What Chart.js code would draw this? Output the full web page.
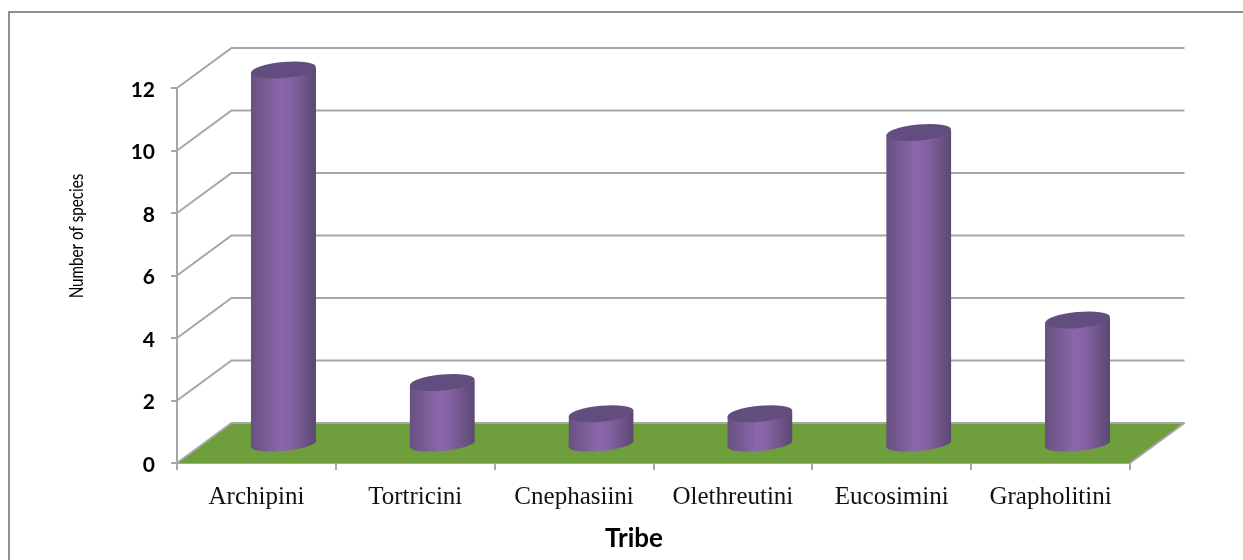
<!DOCTYPE html>
<html>
<head>
<meta charset="utf-8">
<style>
  html, body { margin: 0; padding: 0; background: #fff; }
  #wrap { width: 1243px; height: 560px; overflow: hidden; }
  /* the source picture is a soft, upscaled screenshot */
  #chart1 { filter: blur(0.45px); }
</style>
<script src="https://cdn.jsdelivr.net/npm/chart.js@4/dist/chart.umd.min.js"></script>
</head>
<body>
<div id="wrap"><canvas id="chart1" width="1243" height="560"></canvas></div>
<script>
const tribes = ['Archipini', 'Tortricini', 'Cnephasiini', 'Olethreutini', 'Eucosimini', 'Grapholitini'];
const species = [12, 2, 1, 1, 10, 4];
const xTitle = 'Tribe';
const yTitle = 'Number of species';

// 3d look: depth of the floor, the bars stand halfway in
const depthX = 54.5;
const depthY = -40;
const barShiftX = 27;
const barShiftY = -20;
const gridGrey = '#a6a6a6';
const barPct = 0.41;

function barGradient(ctx, x, w) {
  const g = ctx.createLinearGradient(x - w / 2, 0, x + w / 2, 0);
  g.addColorStop(0, '#67507f');
  g.addColorStop(0.45, '#8a67aa');
  g.addColorStop(0.6, '#8563a4');
  g.addColorStop(1, '#5b4872');
  return g;
}

// the scale may not be laid out yet the first time options get resolved
function barFill(c) {
  const xs = c.chart.scales.x;
  if (!xs || !Number.isFinite(xs.width) || c.dataIndex === undefined) return '#8a67aa';
  const x = xs.getPixelForValue(c.dataIndex);
  const w = xs.width / tribes.length * barPct;
  if (!Number.isFinite(x)) return '#8a67aa';
  return barGradient(c.chart.ctx, x, w);
}

const tilt = -0.095;

const wall3d = {
  id: 'wall3d',
  beforeDraw(chart) {
    // lato sits a bit high against the ticks
    const ys = chart.scales.y;
    const drawLabels = Object.getPrototypeOf(ys).drawLabels;
    ys.drawLabels = function (area) {
      chart.ctx.save();
      chart.ctx.translate(0, 2);
      drawLabels.call(this, area);
      chart.ctx.restore();
    };
  },
  beforeDatasetsDraw(chart) {
    const ctx = chart.ctx;
    const a = chart.chartArea;
    const y = chart.scales.y;

    // frame
    ctx.save();
    ctx.strokeStyle = '#8f8f8f';
    ctx.lineWidth = 2;
    ctx.beginPath();
    ctx.moveTo(9, 560);
    ctx.lineTo(9, 12);
    ctx.lineTo(1243, 12);
    ctx.stroke();

    // floor
    const y0 = y.getPixelForValue(0);
    ctx.fillStyle = '#6f9e3c';
    ctx.beginPath();
    ctx.moveTo(a.left, y0);
    ctx.lineTo(a.right, y0);
    ctx.lineTo(a.right + depthX, y0 + depthY);
    ctx.lineTo(a.left + depthX, y0 + depthY);
    ctx.closePath();
    ctx.fill();

    // walls
    ctx.strokeStyle = gridGrey;
    ctx.lineWidth = 2;
    y.ticks.forEach(t => {
      const py = y.getPixelForValue(t.value);
      ctx.beginPath();
      ctx.moveTo(a.left, py);
      ctx.lineTo(a.left + depthX, py + depthY);
      ctx.lineTo(a.right + depthX, py + depthY);
      ctx.stroke();
    });
    ctx.beginPath();
    ctx.moveTo(a.right, y0);
    ctx.lineTo(a.right + depthX, y0 + depthY);
    ctx.stroke();
    ctx.restore();

    // bars get cut to the slanted top of the cylinder
    ctx.save();
    ctx.beginPath();
    chart.getDatasetMeta(0).data.forEach(b => {
      const cx = b.x + barShiftX;
      const dy = Math.sin(tilt) * b.width / 2;
      const top = b.y + barShiftY + 2;
      const bot = b.base + barShiftY;
      ctx.moveTo(cx - b.width / 2, top - dy);
      ctx.lineTo(cx + b.width / 2, top + dy);
      ctx.lineTo(cx + b.width / 2, bot);
      ctx.lineTo(cx - b.width / 2, bot);
      ctx.closePath();
    });
    ctx.clip();
    ctx.translate(barShiftX, barShiftY);
  },
  afterDatasetsDraw(chart) {
    const ctx = chart.ctx;
    ctx.restore();
    ctx.save();
    chart.getDatasetMeta(0).data.forEach(b => {
      const cx = b.x + barShiftX;
      const r = b.width / 2;
      // bottom, joined up to the end of the bar
      ctx.fillStyle = barGradient(ctx, cx, b.width);
      ctx.beginPath();
      ctx.ellipse(cx, b.base + barShiftY + 2, r, 7, tilt, 0, Math.PI);
      ctx.lineTo(cx - r, b.base + barShiftY - 1);
      ctx.lineTo(cx + r, b.base + barShiftY - 1);
      ctx.closePath();
      ctx.fill();
      // top
      ctx.fillStyle = '#624e7e';
      ctx.beginPath();
      ctx.ellipse(cx, b.y + barShiftY + 2, r, 8, tilt, 0, Math.PI * 2);
      ctx.fill();
    });
    ctx.restore();
  },
  afterDraw(chart) {
    const ctx = chart.ctx;
    ctx.save();
    ctx.fillStyle = '#000';
    ctx.textAlign = 'center';
    ctx.textBaseline = 'middle';
    ctx.font = 'bold 26px Lato';
    ctx.fillText(xTitle, 634, 539);
    ctx.translate(77, 236);
    ctx.rotate(-Math.PI / 2);
    ctx.scale(0.8, 1);
    ctx.font = '19px Lato';
    ctx.fillText(yTitle, 0, 0);
    ctx.restore();
  }
};

const config1 = {
  type: 'bar',
  data: {
    labels: tribes,
    datasets: [{
      label: 'Number of species',
      data: species,
      clip: false,
      barPercentage: barPct,
      categoryPercentage: 1,
      borderWidth: 0,
      backgroundColor: barFill
    }]
  },
  options: {
    responsive: false,
    animation: false,
    layout: { padding: { left: 117, right: 113, top: 88, bottom: 37 } },
    plugins: {
      legend: { display: false },
      title: { display: false },
      tooltip: { enabled: false }
    },
    scales: {
      x: {
        afterFit: s => { s.height = 60; },
        grid: { drawOnChartArea: false, color: gridGrey, lineWidth: 2, tickLength: 7 },
        border: { color: gridGrey, width: 2 },
        ticks: {
          color: '#111',
          padding: 12,
          maxRotation: 0,
          autoSkip: false,
          font: { family: 'Liberation Serif', size: 25 }
        }
      },
      y: {
        min: 0,
        max: 12,
        afterFit: s => { s.width = 60; },
        grid: { drawOnChartArea: false, color: gridGrey, lineWidth: 2, tickLength: 6 },
        border: { color: gridGrey, width: 2 },
        ticks: {
          stepSize: 2,
          color: '#000',
          padding: 16,
          font: { family: 'Lato', size: 21, weight: 'bold' }
        }
      }
    }
  },
  plugins: [wall3d]
};

const chart1 = new Chart(document.getElementById('chart1'), config1);
</script>
</body>
</html>
